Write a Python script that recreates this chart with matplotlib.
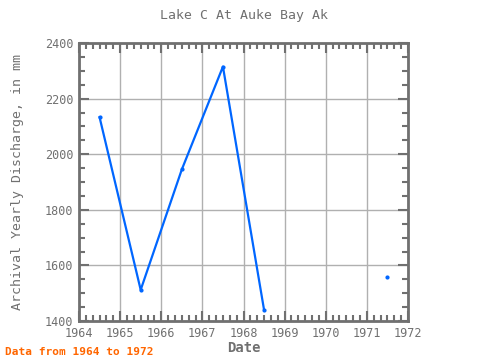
import matplotlib
matplotlib.use('agg')
import matplotlib.pyplot as plt
import numpy as np
from matplotlib.ticker import MultipleLocator

# yearly discharge values (mm), mid-year positions
years = [1964.5, 1965.5, 1966.5, 1967.5, 1968.5, 1969.5, 1970.5, 1971.5]
discharge = [2133, 1512, 1945, 2315, 1440, np.nan, np.nan, 1558]

grey = '#707070'
blue = '#0066ff'

plt.rcParams['font.family'] = ['DejaVu Sans Mono']

fig = plt.figure(figsize=(4.8, 3.6), dpi=100)
ax = fig.add_axes([79/480, 1 - 321/360, (408-79)/480, (321-43)/360])

ax.plot(years, discharge, color=blue, linewidth=1.6, marker='o', markersize=2)

ax.set_xlim(1964, 1972)
ax.set_ylim(1400, 2400)
ax.xaxis.set_major_locator(MultipleLocator(1))
ax.xaxis.set_minor_locator(MultipleLocator(1/6))
ax.yaxis.set_major_locator(MultipleLocator(200))
ax.yaxis.set_minor_locator(MultipleLocator(50))
ax.set_xticklabels([str(int(t)) for t in ax.get_xticks()])

ax.grid(True, which='major', color='#b0b0b0', linewidth=1)
ax.set_axisbelow(True)
ax.tick_params(which='both', direction='in', top=True, right=True,
               colors=grey, labelsize=8.5, width=1.5)
ax.tick_params(which='major', length=7, pad=4)
ax.tick_params(which='minor', length=4)
for s in ax.spines.values():
    s.set_color(grey)
    s.set_linewidth(2)

ax.set_title('Lake C At Auke Bay Ak', color=grey, fontsize=9.5, pad=17)
ax.set_xlabel('Date', color=grey, fontsize=10, fontweight='bold', labelpad=1)
ax.set_ylabel('Archival Yearly Discharge, in mm', color=grey, fontsize=9.5, labelpad=15)

fig.text(5/480, 1 - 352/360, 'Data from 1964 to 1972', color='#ff6600',
         fontsize=8, fontweight='bold', va='center', ha='left')

fig.savefig('out.png', dpi=100)
